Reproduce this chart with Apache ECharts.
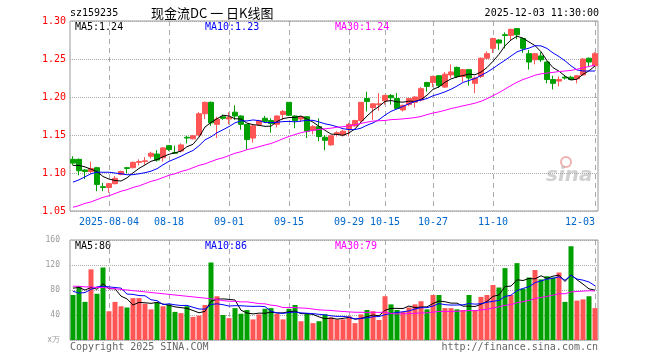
<!DOCTYPE html>
<html><head><meta charset="utf-8">
<script src="https://cdn.jsdelivr.net/npm/echarts@6/dist/echarts.min.js"></script>
<style>html,body{margin:0;padding:0;background:#fff}#c{width:660px;height:360px}</style>
</head><body><div id="c"></div><script>
// ---- data ----
const categories = [
'2025-07-25','2025-07-28','2025-07-29','2025-07-30','2025-07-31','2025-08-01','2025-08-04','2025-08-05','2025-08-06','2025-08-07',
'2025-08-08','2025-08-11','2025-08-12','2025-08-13','2025-08-14','2025-08-15','2025-08-18','2025-08-19','2025-08-20','2025-08-21',
'2025-08-22','2025-08-25','2025-08-26','2025-08-27','2025-08-28','2025-08-29','2025-09-01','2025-09-02','2025-09-03','2025-09-04',
'2025-09-05','2025-09-08','2025-09-09','2025-09-10','2025-09-11','2025-09-12','2025-09-15','2025-09-16','2025-09-17','2025-09-18',
'2025-09-19','2025-09-22','2025-09-23','2025-09-24','2025-09-25','2025-09-26','2025-09-29','2025-09-30','2025-10-09','2025-10-10',
'2025-10-13','2025-10-14','2025-10-15','2025-10-16','2025-10-17','2025-10-20','2025-10-21','2025-10-22','2025-10-23','2025-10-24',
'2025-10-27','2025-10-28','2025-10-29','2025-10-30','2025-10-31','2025-11-03','2025-11-04','2025-11-05','2025-11-06','2025-11-07',
'2025-11-10','2025-11-11','2025-11-12','2025-11-13','2025-11-14','2025-11-17','2025-11-18','2025-11-19','2025-11-20','2025-11-21',
'2025-11-24','2025-11-25','2025-11-26','2025-11-27','2025-11-28','2025-12-01','2025-12-02','2025-12-03'];

const open = [1.118,1.118,1.104,1.102,1.107,1.082,1.081,1.086,1.098,1.107,
1.107,1.114,1.115,1.122,1.125,1.120,1.136,1.127,1.129,1.147,
1.145,1.150,1.178,1.193,1.164,1.174,1.171,1.180,1.175,1.164,
1.146,1.164,1.172,1.169,1.164,1.177,1.193,1.175,1.171,1.174,
1.156,1.161,1.147,1.137,1.151,1.150,1.158,1.162,1.169,1.198,
1.186,1.190,1.195,1.202,1.198,1.183,1.190,1.193,1.196,1.219,
1.219,1.228,1.213,1.229,1.239,1.227,1.236,1.218,1.227,1.251,
1.264,1.275,1.282,1.281,1.290,1.277,1.257,1.249,1.254,1.246,
1.223,1.221,1.226,1.226,1.224,1.229,1.251,1.241];

const close = [1.113,1.103,1.102,1.106,1.085,1.081,1.086,1.093,1.102,1.106,
1.114,1.115,1.116,1.126,1.117,1.133,1.131,1.126,1.137,1.146,
1.149,1.178,1.193,1.166,1.171,1.172,1.173,1.175,1.164,1.144,
1.162,1.169,1.168,1.165,1.175,1.181,1.176,1.169,1.174,1.155,
1.161,1.148,1.143,1.149,1.153,1.155,1.164,1.169,1.193,1.194,
1.191,1.191,1.202,1.199,1.185,1.189,1.198,1.200,1.211,1.214,
1.227,1.215,1.230,1.233,1.227,1.236,1.225,1.225,1.251,1.257,
1.277,1.271,1.281,1.289,1.282,1.264,1.246,1.257,1.249,1.223,
1.218,1.223,1.225,1.223,1.228,1.250,1.246,1.257];

const low = [1.110,1.097,1.092,1.100,1.076,1.076,1.074,1.085,1.097,1.100,
1.106,1.110,1.111,1.119,1.115,1.115,1.129,1.125,1.127,1.139,
1.144,1.148,1.171,1.162,1.146,1.170,1.164,1.170,1.157,1.131,
1.140,1.162,1.166,1.153,1.160,1.170,1.175,1.159,1.167,1.146,
1.151,1.142,1.130,1.136,1.148,1.148,1.148,1.161,1.166,1.181,
1.170,1.182,1.190,1.190,1.185,1.181,1.188,1.186,1.194,1.207,
1.213,1.212,1.212,1.225,1.225,1.220,1.215,1.205,1.225,1.250,
1.258,1.262,1.264,1.275,1.276,1.258,1.236,1.243,1.246,1.218,
1.210,1.214,1.223,1.222,1.218,1.228,1.240,1.240];

const high = [1.122,1.119,1.105,1.115,1.108,1.087,1.087,1.096,1.103,1.108,
1.115,1.118,1.121,1.128,1.130,1.134,1.137,1.136,1.139,1.149,
1.150,1.180,1.194,1.194,1.174,1.177,1.180,1.189,1.176,1.164,
1.163,1.170,1.175,1.172,1.176,1.183,1.193,1.176,1.175,1.175,
1.163,1.172,1.150,1.150,1.155,1.157,1.166,1.170,1.193,1.207,
1.192,1.205,1.203,1.204,1.205,1.190,1.199,1.201,1.213,1.220,
1.228,1.229,1.233,1.243,1.240,1.237,1.237,1.227,1.252,1.260,
1.278,1.276,1.285,1.290,1.290,1.278,1.262,1.258,1.259,1.247,
1.228,1.227,1.228,1.228,1.229,1.251,1.252,1.259];

// volume, in 万
const volume = [72,86,61,113,74,116,46,61,54,52,
67,67,58,49,60,54,57,45,43,54,
37,39,56,124,70,40,35,51,42,48,
33,41,50,51,42,33,50,56,30,42,
27,30,41,36,33,33,38,27,41,48,
46,32,70,57,48,45,52,57,62,49,
72,72,51,51,49,48,72,48,69,72,
88,84,115,72,123,82,100,112,97,102,
100,108,61,150,63,65,70,51];

// moving-average values before enough history exists
const ma5Head  = [1.110,1.110,1.108,1.105];
const ma10Head = [1.088,1.091,1.095,1.099,1.101,1.101,1.101,1.100,1.099];
const ma30Head = [1.055,1.057,1.060,1.062,1.065,1.068,1.070,1.073,1.076,1.078,
1.081,1.083,1.086,1.089,1.091,1.094,1.097,1.099,1.102,1.104,
1.107,1.110,1.112,1.115,1.118,1.120,1.123,1.126,1.128];
const volMa5Head  = [83,84,80,84];
const volMa10Head = [78,75,76,81,85,86,85,84,83];
const volMa30Head = [86,86,85,85,84,84,83,82,81,80,79,78,77,76,75,74,73,72,71,70,69,68,67,66,65,63,62,62,61];

const tickDates = ['2025-08-04','2025-08-18','2025-09-01','2025-09-15','2025-09-29','2025-10-15','2025-10-27','2025-11-10','2025-12-03'];
const priceTicks = [1.05, 1.30, 0.05];   // min, max, step
const volTicks = [0, 160, 40];
const priceLegend = ['MA5:1.24','MA10:1.23','MA30:1.24'];
const volLegend = ['MA5:80','MA10:86','MA30:79'];

// ---- build ----
function ma(vals, n, head){
  return vals.map((v,i)=>{
    if (i < head.length) return head[i];
    let s=0; for(let k=i-n+1;k<=i;k++) s+=vals[k];
    return +(s/n).toFixed(4);
  });
}
const UP='#ff5555', DOWN='#00a000';
const MONO='"DejaVu Sans Mono", "Liberation Mono", monospace';
const tickSet = new Set(tickDates);
const showTick = (idx, val) => tickSet.has(categories[idx]);

const kData = categories.map((_,i)=>[open[i],close[i],low[i],high[i]]);
const volData = volume.map((v,i)=>({value:v,itemStyle:{color: close[i]>=open[i]?UP:DOWN}}));

const chart = echarts.init(document.getElementById('c'), null, {renderer:'canvas'});
const xBase = (gi, showLabel) => ({
  type:'category', gridIndex:gi, data:categories, boundaryGap:true,
  axisLine:{show:false}, axisTick:{show:false},
  axisLabel:{show:showLabel, interval:showTick, color:'#0066cc', fontFamily:MONO, fontSize:10, margin:6,
    alignMaxLabel:'right',
    formatter:(v)=> v===tickDates[0] ? v : v.slice(5)},
  splitLine:{show:true, interval:showTick, alignWithLabel:true, lineStyle:{color:'#aaaaaa', type:[5,4], width:1}}
});
const txt = (text,x,y,color,font,align) => ({type:'text', x, y, silent:true,
  style:{text, fill:color, font, align:align||'left', verticalAlign:'middle'}});

chart.setOption({
  animation:false,
  backgroundColor:'#fff',
  grid:[
    {left:70, top:21, width:528, height:190, show:true, borderColor:'#999', borderWidth:1, backgroundColor:'transparent'},
    {left:70, top:240, width:528, height:100, show:true, borderColor:'#999', borderWidth:1, backgroundColor:'transparent'}
  ],
  xAxis:[xBase(0,true), xBase(1,false)],
  yAxis:[
    {type:'value', gridIndex:0, min:priceTicks[0], max:priceTicks[1], interval:priceTicks[2],
     axisLine:{show:false}, axisTick:{show:false},
     axisLabel:{color:'#ff0000', fontFamily:MONO, fontSize:10, margin:4, formatter:v=>v.toFixed(2)},
     splitLine:{show:true, lineStyle:{color:'#aaaaaa', type:'dotted'}}},
    {type:'value', gridIndex:1, min:volTicks[0], max:volTicks[1], interval:volTicks[2],
     axisLine:{show:false}, axisTick:{show:false},
     axisLabel:{color:'#999999', fontFamily:MONO, fontSize:8, margin:10, formatter:v=> v===0 ? 'x万' : String(v)},
     splitLine:{show:true, lineStyle:{color:'#aaaaaa', type:'dotted'}}}
  ],
  series:[
    {type:'candlestick', xAxisIndex:0, yAxisIndex:0, data:kData, barWidth:5,
     itemStyle:{color:UP, color0:DOWN, borderColor:UP, borderColor0:DOWN, borderWidth:1}},
    {type:'line', xAxisIndex:0, yAxisIndex:0, data:ma(close,5,ma5Head), symbol:'none', lineStyle:{color:'#000', width:1}},
    {type:'line', xAxisIndex:0, yAxisIndex:0, data:ma(close,10,ma10Head), symbol:'none', lineStyle:{color:'#0000ff', width:1}},
    {type:'line', xAxisIndex:0, yAxisIndex:0, data:ma(close,30,ma30Head), symbol:'none', lineStyle:{color:'#ff00ff', width:1}},
    {type:'bar', xAxisIndex:1, yAxisIndex:1, data:volData, barWidth:5},
    {type:'line', xAxisIndex:1, yAxisIndex:1, data:ma(volume,5,volMa5Head), symbol:'none', lineStyle:{color:'#000', width:1}},
    {type:'line', xAxisIndex:1, yAxisIndex:1, data:ma(volume,10,volMa10Head), symbol:'none', lineStyle:{color:'#0000ff', width:1}},
    {type:'line', xAxisIndex:1, yAxisIndex:1, data:ma(volume,30,volMa30Head), symbol:'none', lineStyle:{color:'#ff00ff', width:1}}
  ],
  graphic:[
    txt('sz159235',70,13,'#000','10px '+MONO),
    txt('现金流DC 一 日K线图',151,13,'#000','13px "Noto Sans CJK SC"'),
    txt('2025-12-03 11:30:00',599,13,'#000','10px '+MONO,'right'),
    txt(priceLegend[0],75,27,'#000','10px '+MONO),
    txt(priceLegend[1],205,27,'#0000ff','10px '+MONO),
    txt(priceLegend[2],335,27,'#ff00ff','10px '+MONO),
    txt(volLegend[0],75,246,'#000','10px '+MONO),
    txt(volLegend[1],205,246,'#0000ff','10px '+MONO),
    txt(volLegend[2],335,246,'#ff00ff','10px '+MONO),
    txt('Copyright 2025 SINA.COM',70,347,'#666','10px '+MONO),
    txt('http://finance.sina.com.cn',598,347,'#666','10px '+MONO,'right'),
    {type:'circle', shape:{cx:566, cy:162, r:5}, silent:true, style:{fill:'none', stroke:'#f3b0b0', lineWidth:2}},
    txt('sina',546,176,'rgba(170,170,170,0.55)','italic bold 20px "DejaVu Sans"')
  ]
});
</script></body></html>
